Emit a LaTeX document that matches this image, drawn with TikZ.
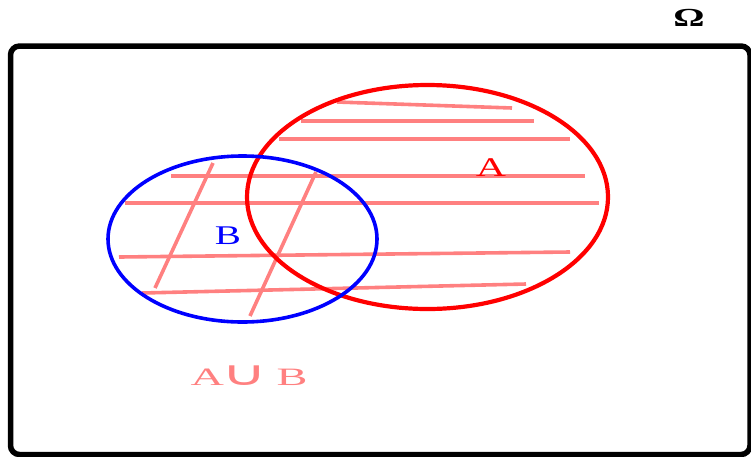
\documentclass[tikz,border=0pt]{standalone}
\usepackage{fontspec}
\setmainfont{Liberation Serif}
\newfontfamily\symfont{DejaVu Sans}
\definecolor{hatch}{HTML}{FF8080}
\definecolor{setred}{HTML}{FF0000}
\definecolor{setblue}{HTML}{0000FF}
\begin{document}
\begin{tikzpicture}[x=1pt,y=-1pt,
  hatchline/.style={hatch,line width=3.6pt},
  lbl/.style={inner sep=0pt,anchor=center}]
\clip (0,0) rectangle (751,456);
\useasboundingbox (0,0) rectangle (751,456);
% universe
\draw[line width=5.5pt,rounded corners=9pt] (10.5,46) rectangle (750,454.5);
% hatch lines
\draw[hatchline] (337,102) -- (512,108);
\draw[hatchline] (301,121) -- (534,121);
\draw[hatchline] (279,139) -- (570,139);
\draw[hatchline] (171,176) -- (585,176);
\draw[hatchline] (125,203) -- (599,203);
\draw[hatchline] (119,257) -- (570,252);
\draw[hatchline] (142,293) -- (526,284);
\draw[hatchline] (213,163) -- (155,288);
\draw[hatchline] (316,172) -- (250,316);
% sets
\draw[setred,line width=4.2pt] (427.5,197) ellipse [x radius=180.5, y radius=112];
\draw[setblue,line width=3.6pt] (242.5,239) ellipse [x radius=134.5, y radius=83];
% labels
\node[lbl,text=setred] (la) at (491,168) {\scalebox{1.55}[1]{\fontsize{27}{27}\selectfont A}};
\node[lbl,text=setblue] (lb) at (228,236) {\scalebox{1.45}[1]{\fontsize{27}{27}\selectfont B}};
\node[lbl,text=hatch] (lu) at (249,376) {\scalebox{1.85}[1]{\fontsize{25}{25}\selectfont A\hspace{-1.5pt}{\symfont\fontsize{34}{34}\selectfont ∪}\hspace{5pt}B}};
\node[lbl] (lo) at (689,18) {\scalebox{1.5}[1]{\fontsize{26}{26}\selectfont\bfseries Ω}};
\end{tikzpicture}
\end{document}
